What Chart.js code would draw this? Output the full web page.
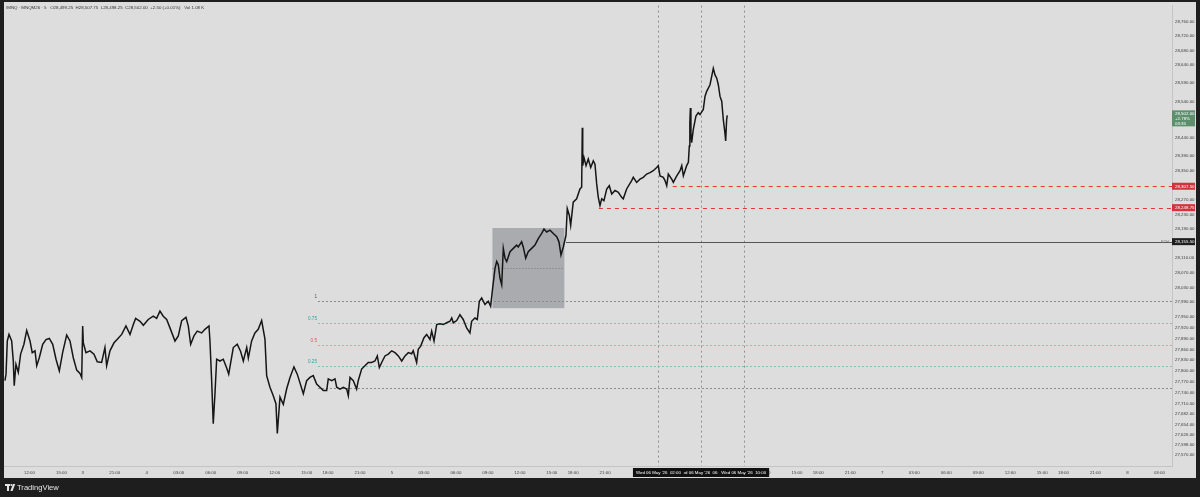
<!DOCTYPE html>
<html lang="en">
<head>
<meta charset="UTF-8">
<title>MNQM26 5m</title>
<script src="https://cdn.jsdelivr.net/npm/chart.js"></script>
<style>
  html, body { margin: 0; padding: 0; background: #1e1e1e; }
  canvas { display: block; }
</style>
</head>
<body>
<canvas id="c" width="1200" height="497"></canvas>
<script>
// trading hours counted from Fri 1 May 12:00 (session breaks removed)
const hours = [
  -2.30,-2.20,-2.08,-1.92,-1.67,-1.52,-1.43,-1.27,-1.05,-0.83,-0.52,-0.26,0.05,0.26,0.52,0.68,0.92,1.24,1.55,1.86,
  2.18,2.49,2.80,3.11,3.49,3.80,4.11,4.43,4.74,4.90,4.99,5.05,5.30,5.68,6.05,6.36,6.77,7.08,7.24,7.55,
  7.93,8.24,8.65,9.05,9.43,9.74,9.96,10.37,10.68,11.14,11.61,11.93,12.24,12.55,12.87,13.18,13.65,13.96,14.28,14.68,
  14.90,15.12,15.43,15.74,16.15,16.46,16.84,16.93,17.09,17.24,17.40,17.56,17.87,18.18,18.50,18.69,19.12,19.49,19.81,20.06,
  20.38,20.53,20.84,21.15,21.46,21.78,22.09,22.25,22.56,22.87,23.12,23.25,23.50,23.81,24.13,24.44,24.81,25.12,
  25.69,26.00,26.31,26.62,26.94,27.25,27.56,27.88,28.03,28.35,28.66,28.82,29.13,29.44,29.76,29.91,30.07,30.38,30.69,30.84,
  31.16,31.47,31.78,32.10,32.41,32.63,32.82,33.04,33.35,33.66,33.98,34.29,34.60,34.92,35.23,35.54,35.85,36.00,36.32,36.47,
  36.70,37.01,37.26,37.57,37.73,37.95,38.20,38.51,38.82,39.14,39.45,39.61,39.76,40.08,40.38,40.69,41.01,41.32,41.48,41.79,
  42.01,42.20,42.42,42.73,43.04,43.26,43.45,
  43.67,43.83,43.98,44.14,44.30,44.45,44.61,44.77,45.08,45.39,45.70,45.85,46.17,46.32,46.55,46.79,47.11,47.42,47.73,48.05,
  48.27,48.52,48.83,49.14,49.46,49.67,49.86,50.08,50.33,50.45,50.64,50.77,51.01,51.33,51.64,51.80,51.86,51.90,52.02,52.21,
  52.42,52.65,52.89,53.05,53.21,53.36,53.52,53.68,53.89,54.15,54.39,54.62,54.93,55.24,55.55,55.70,56.02,56.49,56.64,56.96,
  57.27,57.58,57.90,58.21,58.52,58.84,58.99,59.15,59.46,59.62,59.78,59.93,60.25,60.40,60.72,61.03,61.19,61.34,61.65,61.81,61.90,
  61.95,62.00,62.05,62.12,62.27,62.52,62.74,62.90,63.21,63.37,63.53,63.84,64.00,64.15,64.31,64.47,64.62,64.78,64.94,65.09,
  65.24,65.31,65.40,65.46
];
const prices = [
  27774,27792,27883,27901,27883,27828,27760,27819,27797,27847,27874,27912,27883,27851,27856,27815,27837,27874,27887,27890,
  27874,27833,27801,27851,27899,27883,27837,27803,27794,27783,27924,27878,27851,27856,27847,27826,27824,27865,27815,27856,
  27878,27888,27901,27924,27901,27928,27945,27937,27926,27942,27951,27945,27965,27951,27942,27919,27883,27897,27939,27948,
  27924,27874,27897,27910,27905,27915,27924,27883,27774,27656,27738,27833,27828,27833,27809,27792,27865,27874,27854,27828,
  27865,27836,27883,27905,27915,27939,27888,27788,27756,27733,27711,27629,27729,27709,27752,27783,27812,27792,
  27738,27774,27783,27788,27765,27756,27747,27747,27779,27774,27779,27756,27751,27756,27751,27733,27783,27774,27751,27774,
  27806,27815,27824,27824,27828,27842,27810,27824,27842,27847,27856,27851,27842,27828,27842,27851,27848,27856,27824,27860,
  27869,27892,27901,27887,27910,27883,27928,27930,27928,27933,27937,27946,27933,27939,27955,27942,27919,27905,27937,27946,
  27942,27992,28001,27983,27992,27978,28028,
  28082,28101,28092,28055,28037,28137,28110,28101,28128,28137,28146,28141,28155,28141,28110,28128,28137,28146,28164,28178,
  28190,28182,28187,28178,28169,28155,28119,28141,28173,28246,28228,28200,28264,28273,28300,28305,28468,28364,28386,28364,
  28382,28359,28377,28368,28314,28277,28255,28273,28268,28300,28309,28286,28296,28291,28277,28273,28300,28323,28332,28318,
  28327,28332,28341,28345,28350,28359,28364,28336,28332,28323,28309,28341,28327,28318,28336,28350,28364,28336,28364,28373,28418,
  28482,28522,28454,28427,28463,28500,28509,28504,28518,28554,28568,28586,28609,28631,28613,28604,28586,28554,28541,28490,
  28454,28432,28490,28502
];

const xTickHours  = [0, 3, 5, 8, 11, 14, 17, 20, 23, 26, 28, 31, 34, 37, 40, 43, 46, 49, 51, 54, 57, 60, 63, 66, 69, 72, 74, 77, 80, 83, 86, 89, 92, 95, 97, 100, 103, 106];
const xTickLabels = ['12:00','15:00','3','21:00','4','03:00','06:00','09:00','12:00','15:00','18:00','21:00','5','03:00','06:00','09:00','12:00','15:00','18:00','21:00','6','03:00','06:00','09:00','12:00','15:00','18:00','21:00','7','03:00','06:00','09:00','12:00','15:00','18:00','21:00','8','03:00'];
const yTicks = [28760, 28720, 28680, 28640, 28590, 28540, 28440, 28390, 28350, 28270, 28230, 28190, 28110, 28070, 28030, 27990, 27950, 27920, 27890, 27860, 27830, 27800, 27770, 27740, 27710, 27682, 27654, 27626, 27598, 27570];

// fib retracement drawn from hour 27
const fibStart = 27.06;
const fibPrices = [27992, 27933, 27873, 27813, 27754];
const fibLabels = ['1', '0.75', '0.5', '0.25', ''];
const fibColors = ['#8a8a8a', '#7cc4b6', '#e39a9a', '#7cc4b6', '#8a8a8a'];
const fibTextColors = ['#555555', '#26a69a', '#e0514f', '#26a69a', '#555555'];

// shaded range box
const boxHours = [43.43, 50.18];
const boxPrices = [27973, 28193];
const boxMid = 28084;

// horizontal levels
const levelPrices = [28307.5, 28248.75, 28155.5];
const levelStarts = [60.34, 53.42, 50.33];
const levelColors = ['#e53935', '#e53935', '#555555'];
const levelDashed = [true, true, false];
const badgeColors = ['#d0343c', '#d0343c', '#1e1e1e'];

// crosshair time markers
const markerHours = [59, 63, 67];
const markerLabels = ["Wed 06 May '26  02:00", "Wed 06 May '26  06:00", "Wed 06 May '26  10:00"];

const lastPrice = 28502;
const lastInfo = ['28,502.00', '+2.78%', '03:35'];
const legendText = '/MNQ \u00b7 MNQM26 \u00b7 5   O28,499.25  H28,507.75  L28,498.25  C28,502.00  +2.50 (+0.01%)   Vol 1.08 K';

const FONT = '"Liberation Sans", Arial, sans-serif';
const fmt = v => v.toLocaleString('en-US', { minimumFractionDigits: 2, maximumFractionDigits: 2 });

const decor = {
  id: 'decor',
  beforeDraw(chart) {
    const c = chart.ctx;
    c.save();
    c.fillStyle = '#1e1e1e';
    c.fillRect(0, 0, chart.width, chart.height);
    c.fillStyle = '#dddddd';
    c.fillRect(4, 2, 1192, 476);
    c.restore();
  },
  beforeDatasetsDraw(chart) {
    const c = chart.ctx, xs = chart.scales.x, ys = chart.scales.y, a = chart.chartArea;
    c.save();
    // vertical markers
    c.strokeStyle = '#8f8f8f';
    c.lineWidth = 1;
    c.setLineDash([2, 3]);
    markerHours.forEach(h => {
      const x = Math.round(xs.getPixelForValue(h)) + 0.5;
      c.beginPath(); c.moveTo(x, a.top); c.lineTo(x, a.bottom); c.stroke();
    });
    // box
    const bx0 = xs.getPixelForValue(boxHours[0]), bx1 = xs.getPixelForValue(boxHours[1]);
    const by0 = ys.getPixelForValue(boxPrices[1]), by1 = ys.getPixelForValue(boxPrices[0]);
    c.setLineDash([]);
    c.fillStyle = 'rgba(95, 97, 104, 0.4)';
    c.fillRect(bx0, by0, bx1 - bx0, by1 - by0);
    c.strokeStyle = '#777777';
    c.setLineDash([1, 2]);
    const bm = Math.round(ys.getPixelForValue(boxMid)) + 0.5;
    c.beginPath(); c.moveTo(bx0, bm); c.lineTo(bx1, bm); c.stroke();
    // fib levels
    const fx = xs.getPixelForValue(fibStart);
    c.font = '4.6px ' + FONT;
    c.textAlign = 'right';
    c.textBaseline = 'middle';
    fibPrices.forEach((p, i) => {
      const y = Math.round(ys.getPixelForValue(p)) + 0.5;
      c.strokeStyle = fibColors[i];
      c.setLineDash([2, 2]);
      c.beginPath(); c.moveTo(fx, y); c.lineTo(a.right, y); c.stroke();
      if (fibLabels[i]) {
        c.fillStyle = fibTextColors[i];
        c.fillText(fibLabels[i], fx - 1, y - 4.5);
      }
    });
    // price levels
    levelPrices.forEach((p, i) => {
      const y = Math.round(ys.getPixelForValue(p)) + 0.5;
      c.strokeStyle = levelColors[i];
      c.setLineDash(levelDashed[i] ? [4, 4] : []);
      c.beginPath(); c.moveTo(xs.getPixelForValue(levelStarts[i]), y); c.lineTo(a.right, y); c.stroke();
    });
    c.setLineDash([]);
    c.fillStyle = '#777777';
    c.font = '4px ' + FONT;
    c.textAlign = 'right';
    c.fillText('RTH', a.right - 3, ys.getPixelForValue(28155.5));
    c.restore();
  },
  afterDraw(chart) {
    const c = chart.ctx, xs = chart.scales.x, ys = chart.scales.y, a = chart.chartArea;
    c.save();
    // badges on price axis
    c.textBaseline = 'middle';
    c.textAlign = 'left';
    c.font = '4.4px ' + FONT;
    levelPrices.forEach((p, i) => {
      const y = ys.getPixelForValue(p);
      c.fillStyle = badgeColors[i];
      c.fillRect(a.right, y - 3.5, 23, 7);
      c.fillStyle = '#ffffff';
      c.fillText(fmt(p), a.right + 3, y + 0.3);
    });
    const ly = ys.getPixelForValue(lastPrice);
    c.fillStyle = '#5e8f6d';
    c.fillRect(a.right, ly - 5, 23, 16);
    c.fillStyle = '#ffffff';
    lastInfo.forEach((t, i) => c.fillText(t, a.right + 3, ly - 1.5 + i * 5));
    // crosshair time labels
    c.font = '4.4px ' + FONT;
    c.textAlign = 'center';
    [1, 0, 2].forEach(i => {
      const x = xs.getPixelForValue(markerHours[i]);
      const w = c.measureText(markerLabels[i]).width + 6;
      c.fillStyle = '#111111';
      c.fillRect(x - w / 2, 468, w, 9);
      c.fillStyle = '#ffffff';
      c.fillText(markerLabels[i], x, 472.8);
    });
    // legend line
    c.textAlign = 'left';
    c.fillStyle = '#333333';
    c.font = '4.4px ' + FONT;
    c.fillText(legendText, 6, 8);
    // logo
    c.fillStyle = '#e6e6e6';
    c.fillRect(5, 484, 5, 2);
    c.fillRect(7, 484, 2, 7);
    c.beginPath(); c.arc(11.4, 485, 1.1, 0, Math.PI * 2); c.fill();
    c.beginPath();
    c.moveTo(13, 484); c.lineTo(15.2, 484); c.lineTo(12.6, 491); c.lineTo(10.4, 491); c.closePath(); c.fill();
    c.font = '500 7.6px ' + FONT;
    c.textBaseline = 'middle';
    c.fillText('TradingView', 17, 488);
    c.restore();
  }
};

new Chart(document.getElementById('c'), {
  type: 'line',
  data: {
    datasets: [{
      data: hours.map((h, i) => ({ x: h, y: prices[i] })),
      borderColor: '#161616',
      borderWidth: 1.5,
      pointRadius: 0,
      tension: 0
    }]
  },
  options: {
    responsive: false,
    animation: false,
    devicePixelRatio: 1,
    layout: { padding: { left: 4, top: 2, right: 4, bottom: 19 } },
    plugins: { legend: { display: false }, tooltip: { enabled: false } },
    scales: {
      x: {
        type: 'linear',
        min: -2.39,
        max: 107.18,
        grid: { display: false, drawTicks: false },
        border: { display: true, color: '#c4c4c4' },
        afterFit: s => { s.height = 12; },
        afterBuildTicks: s => { s.ticks = xTickHours.map(v => ({ value: v })); },
        ticks: {
          autoSkip: false,
          maxRotation: 0,
          padding: 4,
          color: '#3c3c3c',
          font: { family: FONT, size: 4.4 },
          callback: (v, i) => xTickLabels[i]
        }
      },
      y: {
        position: 'right',
        min: 27540,
        max: 28803,
        grid: { display: false, drawTicks: false },
        border: { display: true, color: '#c4c4c4' },
        afterFit: s => { s.width = 24; },
        afterBuildTicks: s => { s.ticks = yTicks.map(v => ({ value: v })); },
        ticks: {
          autoSkip: false,
          padding: 3,
          color: '#3c3c3c',
          font: { family: FONT, size: 4.4 },
          callback: v => fmt(v)
        }
      }
    }
  },
  plugins: [decor]
});
</script>
</body>
</html>
